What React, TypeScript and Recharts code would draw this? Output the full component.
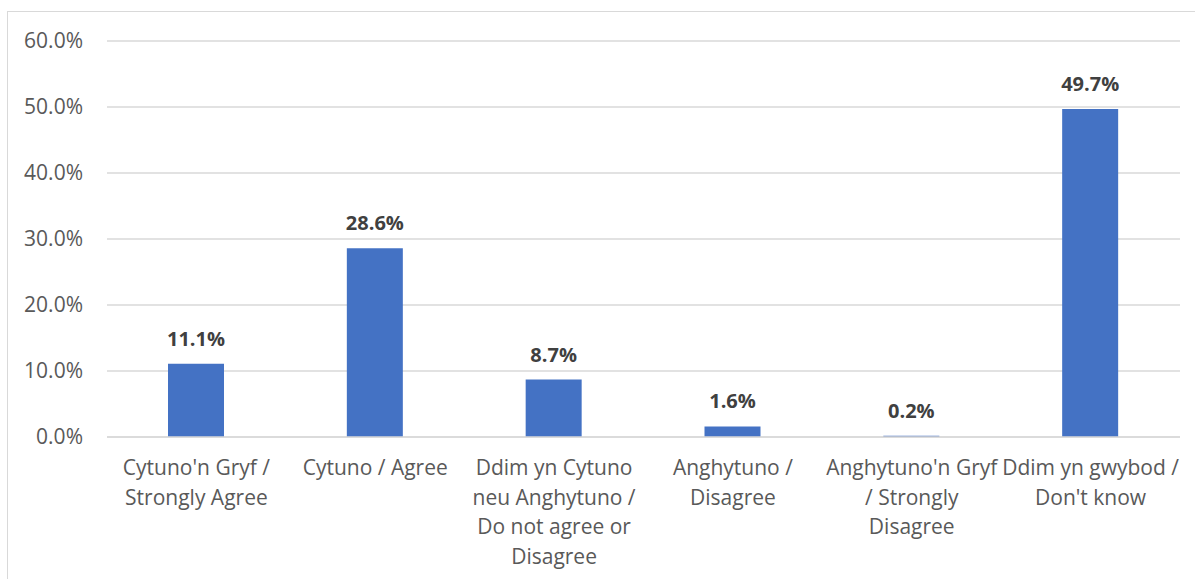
import React from 'react';
import { BarChart, Bar, XAxis, YAxis, CartesianGrid, LabelList } from 'recharts';

const categories = [
  "Cytuno'n Gryf /\nStrongly Agree",
  'Cytuno / Agree',
  'Ddim yn Cytuno\nneu Anghytuno /\nDo not agree or\nDisagree',
  'Anghytuno /\nDisagree',
  "Anghytuno'n Gryf\n/ Strongly\nDisagree",
  "Ddim yn gwybod /\nDon't know",
];
const values = [11.1, 28.6, 8.7, 1.6, 0.2, 49.7];
const yTicks = [0, 10, 20, 30, 40, 50, 60];

const data = categories.map((name, i) => ({ name, value: values[i] }));

const FONT = '"Open Sans", "Noto Sans", sans-serif';

const CategoryTick = (props: any) => {
  const { x, y, payload } = props;
  const lines: string[] = String(payload.value).split('\n');
  return (
    <text x={x} y={y + 36} textAnchor="middle" fill="#595959" fontSize={21} fontFamily={FONT}>
      {lines.map((line, i) => (
        <tspan key={i} x={x} dy={i === 0 ? 0 : 29.5}>
          {line}
        </tspan>
      ))}
    </text>
  );
};

const App: React.FC = () => {
  return (
    <div
      style={{
        position: 'fixed',
        left: 0,
        top: 0,
        width: 1195,
        height: 579,
        overflow: 'hidden',
        background: '#fff',
      }}
    >
      <div
        style={{
          position: 'absolute',
          left: 7,
          top: 11,
          width: 1300,
          height: 700,
          border: '1px solid #d9d9d9',
          boxSizing: 'border-box',
        }}
      />
      <div style={{ position: 'absolute', left: 0, top: 0 }}>
        <BarChart
          width={1195}
          height={579}
          data={data}
          margin={{ top: 41, right: 15, bottom: 0, left: 0 }}
          barSize={56}
        >
          <CartesianGrid vertical={false} stroke="#d9d9d9" strokeWidth={1.3} />
          <XAxis
            dataKey="name"
            height={142}
            interval={0}
            tickLine={false}
            tickSize={0}
            axisLine={{ stroke: '#d9d9d9', strokeWidth: 1.3 }}
            tick={<CategoryTick />}
          />
          <YAxis
            width={107}
            domain={[0, 60]}
            ticks={yTicks}
            tickFormatter={(v: number) => `${v.toFixed(1)}%`}
            axisLine={false}
            tickLine={false}
            tickSize={0}
            tickMargin={24}
            tick={{ fill: '#595959', fontSize: 21, fontFamily: FONT }}
          />
          <Bar dataKey="value" fill="#4472C4" isAnimationActive={false}>
            <LabelList
              dataKey="value"
              position="top"
              offset={18}
              formatter={(v: any) => `${Number(v).toFixed(1)}%`}
              fill="#404040"
              fontSize={20}
              fontWeight="bold"
              fontFamily={FONT}
            />
          </Bar>
        </BarChart>
      </div>
    </div>
  );
};

export default App;
